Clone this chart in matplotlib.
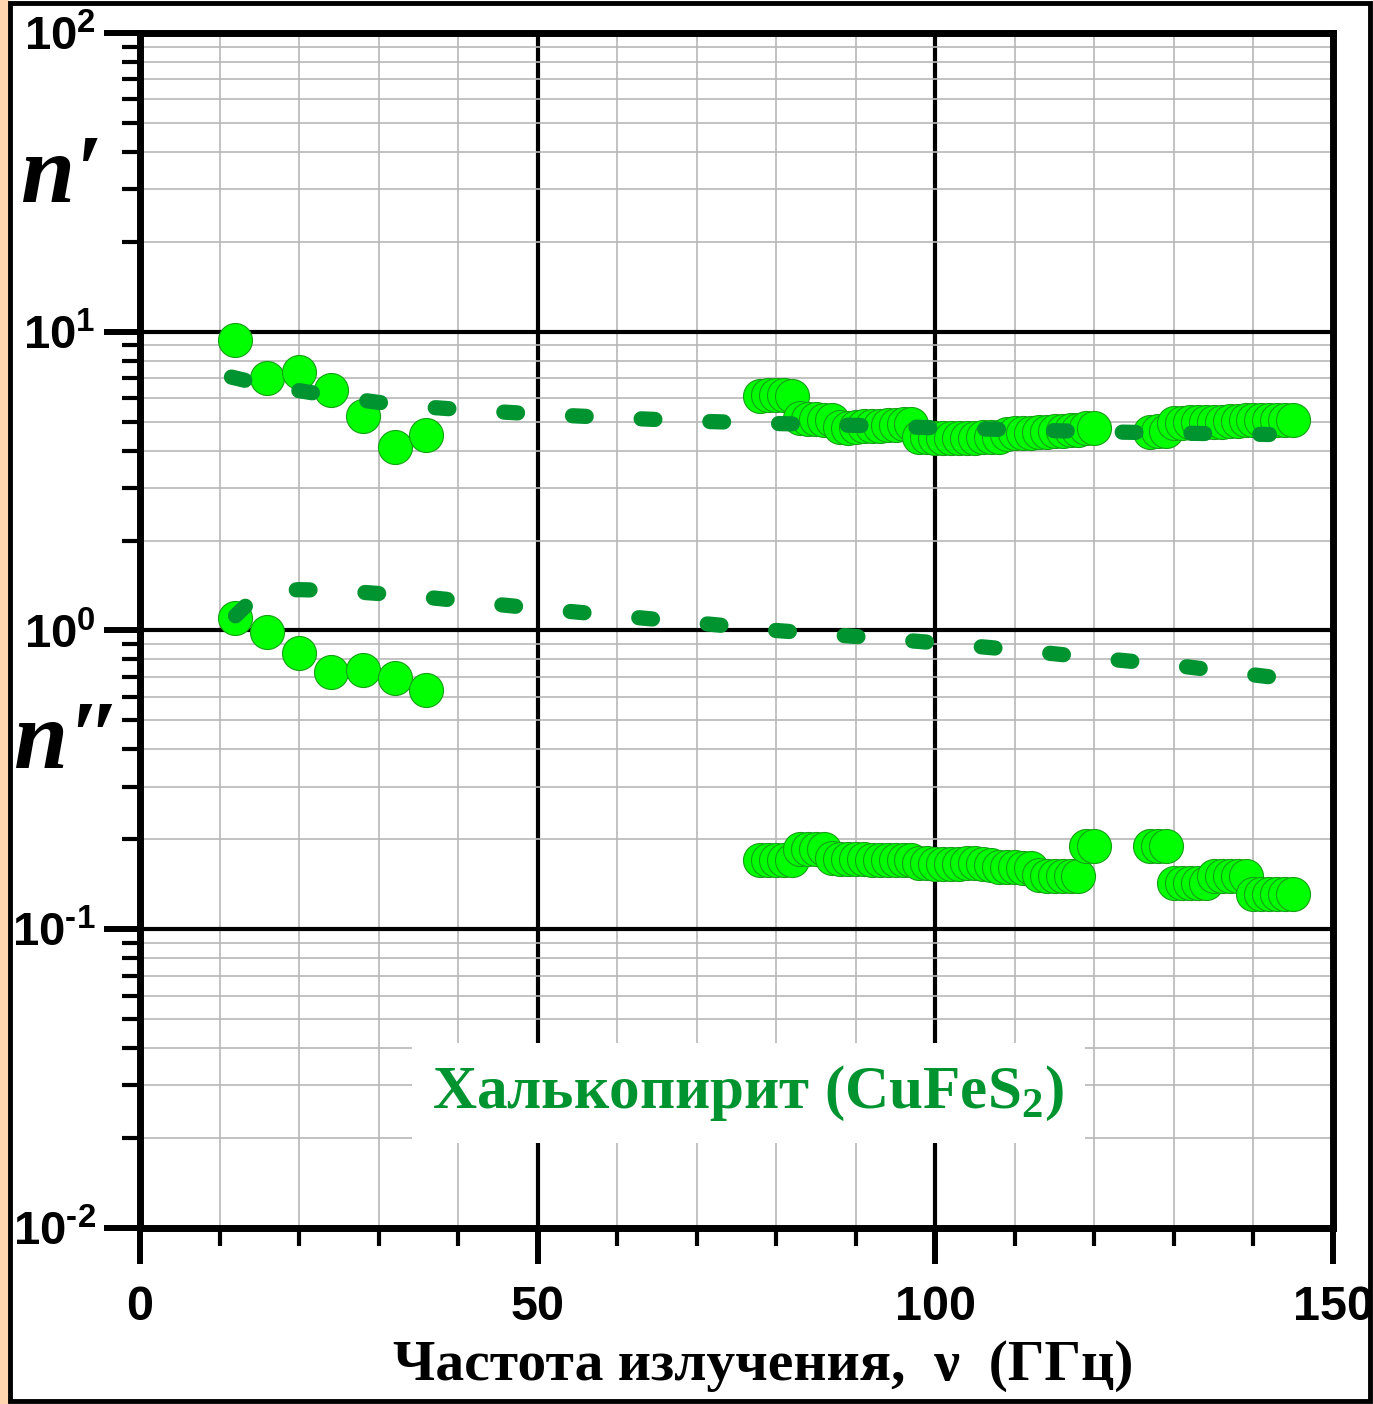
import numpy as np
import matplotlib
matplotlib.use('Agg')
import matplotlib.pyplot as plt
from matplotlib import patches
from matplotlib.ticker import FixedLocator, NullFormatter

plt.rcParams['mathtext.fontset'] = 'custom'
plt.rcParams['mathtext.rm'] = 'Liberation Serif:bold'
plt.rcParams['mathtext.bf'] = 'Liberation Sans:bold'

# low-frequency measurements
freq_lo = [12, 16, 20, 24, 28, 32, 36]
n1_lo = [9.37, 6.98, 7.31, 6.37, 5.21, 4.10, 4.50]
n2_lo = [1.10, 0.985, 0.844, 0.729, 0.740, 0.696, 0.634]

# high-frequency measurements
freq_hi = list(range(78, 121)) + list(range(127, 146))
n1_hi = [6.10, 6.12, 6.13, 6.12, 6.10,
         5.15, 5.12, 5.10, 5.08, 5.05,
         4.80, 4.78, 4.80, 4.82, 4.85, 4.85, 4.88, 4.88, 4.90, 4.90,
         4.45, 4.43, 4.42, 4.42, 4.40, 4.40, 4.42, 4.42, 4.43, 4.45, 4.45,
         4.55, 4.58, 4.60, 4.60, 4.62, 4.62, 4.65, 4.65, 4.68, 4.68,
         4.75, 4.75,
         4.62, 4.65, 4.65,
         4.95, 4.95, 4.97, 4.97, 5.00, 5.00, 5.00, 5.02, 5.02, 5.05, 5.05,
         5.05, 5.05, 5.05, 5.07, 5.07]
n2_hi = [0.171, 0.171, 0.171, 0.171, 0.171,
         0.186, 0.186, 0.186, 0.186, 0.173,
         0.172, 0.172, 0.172, 0.172, 0.171, 0.171, 0.171, 0.171, 0.170, 0.170,
         0.166, 0.166, 0.165, 0.165, 0.165, 0.165, 0.166, 0.166, 0.165, 0.164,
         0.162, 0.161, 0.161, 0.160, 0.160,
         0.152, 0.151, 0.151, 0.151, 0.151, 0.151,
         0.190, 0.190,
         0.190, 0.190, 0.190,
         0.143, 0.143, 0.143, 0.143, 0.143,
         0.151, 0.151, 0.151, 0.151, 0.151,
         0.131, 0.131, 0.131, 0.131, 0.131, 0.131]

# model curves (dashed)
fit_x1 = [11.5, 15, 20, 25, 30, 35, 40, 50, 60, 70, 80, 90, 100, 110, 120, 130, 142]
fit_n1 = [7.05, 6.70, 6.35, 6.05, 5.80, 5.62, 5.50, 5.30, 5.15, 5.02, 4.93, 4.86,
          4.77, 4.70, 4.63, 4.58, 4.53]
fit_x2 = [12, 14, 16, 18, 20, 25, 30, 35, 40, 50, 60, 70, 80, 90, 100, 110, 120, 130, 142]
fit_n2 = [1.12, 1.26, 1.33, 1.36, 1.37, 1.36, 1.33, 1.30, 1.26, 1.185, 1.12, 1.06,
          1.00, 0.955, 0.91, 0.862, 0.81, 0.765, 0.70]

W, H = 1373, 1404
fig = plt.figure(figsize=(W / 100, H / 100), dpi=100)

# frame around the figure
fig.patches.append(patches.Rectangle((0, 0), 9 / W, 1, transform=fig.transFigure,
                                     facecolor='#FFD5B0', edgecolor='none', zorder=0))
fig.patches.append(patches.Rectangle((10 / W, 3 / H), (W - 13) / W, (H - 6) / H,
                                     transform=fig.transFigure, facecolor='none',
                                     edgecolor='black', lw=3.5, zorder=5))

ax = fig.add_axes([140 / W, 1 - 1228 / H, 1193 / W, 1195 / H])

green = '#00FF00'
edge = '#14A014'
dark = '#009430'

ax.plot(freq_lo, n1_lo, 'o', ms=24.5, mfc=green, mec=edge, mew=0.8, zorder=3)
ax.plot(freq_lo, n2_lo, 'o', ms=24.5, mfc=green, mec=edge, mew=0.8, zorder=3)
ax.plot(freq_hi, n1_hi, 'o', ms=24.5, mfc=green, mec=edge, mew=0.8, zorder=3)
ax.plot(freq_hi, n2_hi, 'o', ms=24.5, mfc=green, mec=edge, mew=0.8, zorder=3)

ax.plot(fit_x1, fit_n1, color=dark, lw=11, ls=(0, (0.9, 3.6)),
        dash_capstyle='round', zorder=4)
ax.plot(fit_x2, fit_n2, color=dark, lw=11, ls=(0, (0.9, 3.6)),
        dash_capstyle='round', zorder=4)

ax.set_yscale('log')
ax.set_xlim(0, 150)
ax.set_ylim(1e-2, 1e2)

ax.xaxis.set_major_locator(FixedLocator([0, 50, 100, 150]))
ax.xaxis.set_minor_locator(FixedLocator([10, 20, 30, 40, 60, 70, 80, 90,
                                         110, 120, 130, 140]))
ax.yaxis.set_major_locator(FixedLocator([1e-2, 1e-1, 1e0, 1e1, 1e2]))
minors = [m * 10.0 ** e for e in range(-2, 2) for m in range(2, 10)]
ax.yaxis.set_minor_locator(FixedLocator(minors))
ax.yaxis.set_minor_formatter(NullFormatter())

ax.set_xticklabels(['0', '50', '100', '150'], fontsize=35,
                   fontfamily='Liberation Sans', fontweight='bold')
ax.set_yticklabels([r'$\mathbf{10^{‐2}}$', r'$\mathbf{10^{‐1}}$', r'$\mathbf{10^{0}}$',
                    r'$\mathbf{10^{1}}$', r'$\mathbf{10^{2}}$'], fontsize=34)

ax.tick_params(which='major', direction='out', length=26, width=4.3, color='black')
ax.tick_params(which='minor', direction='out', length=13, width=3, color='black')
ax.tick_params(axis='x', which='major', pad=15)
ax.tick_params(axis='y', which='major', pad=6)

for s in ax.spines.values():
    s.set_linewidth(5)

ax.set_axisbelow(True)
ax.grid(which='minor', color='#b8b8b8', lw=1.2)
ax.grid(which='major', color='black', lw=3)

ax.set_xlabel('Частота излучения,  ν  (ГГц)', fontsize=41.5,
              fontfamily=['Liberation Serif', 'DejaVu Serif'], fontweight='bold',
              labelpad=7)
ax.xaxis.label.set_x(0.522)

ax.text(76.5, 0.0283, r'Халькопирит (CuFeS$_\mathrm{2}$)', fontsize=44,
        fontfamily='Liberation Serif', fontweight='bold', color=dark,
        ha='center', va='center', zorder=5,
        bbox=dict(boxstyle='square,pad=0.33', facecolor='white', edgecolor='none'))

fig.text(62 / W, 1 - 178 / H, 'n′', fontsize=70, fontstyle='italic', fontweight='bold',
         fontfamily=['Liberation Serif', 'DejaVu Serif'], ha='center', va='center')
fig.text(68 / W, 1 - 744 / H, 'n″', fontsize=70, fontstyle='italic', fontweight='bold',
         fontfamily=['Liberation Serif', 'DejaVu Serif'], ha='center', va='center')

fig.savefig('out.png', dpi=100, facecolor='white')
